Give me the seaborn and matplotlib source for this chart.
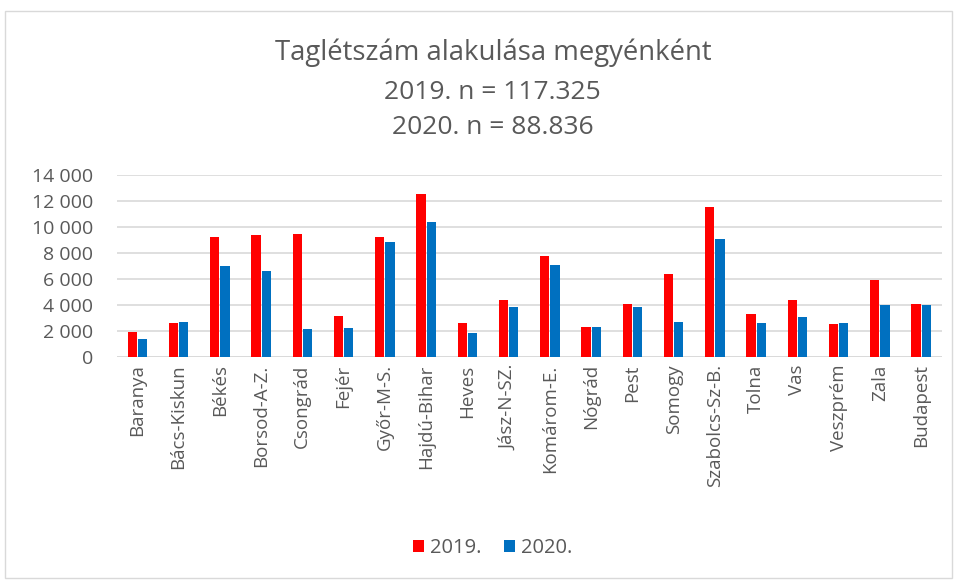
import pandas as pd
import matplotlib.pyplot as plt
import seaborn as sns
from matplotlib.patches import Rectangle

# Chart data
counties = ['Baranya', 'Bács-Kiskun', 'Békés', 'Borsod-A-Z.', 'Csongrád', 'Fejér',
            'Győr-M-S.', 'Hajdú-Bihar', 'Heves', 'Jász-N-SZ.', 'Komárom-E.', 'Nógrád',
            'Pest', 'Somogy', 'Szabolcs-Sz-B.', 'Tolna', 'Vas', 'Veszprém', 'Zala', 'Budapest']
members_2019 = [1950, 2650, 9280, 9400, 9500, 3160, 9300, 12540, 2620, 4390,
                7830, 2310, 4110, 6420, 11560, 3310, 4390, 2590, 5930, 4110]
members_2020 = [1390, 2700, 7040, 6630, 2180, 2240, 8860, 10400, 1900, 3880,
                7110, 2340, 3850, 2700, 9140, 2620, 3130, 2640, 4030, 4010]
years = ['2019.', '2020.']
colors = ['#FF0000', '#0070C0']
y_ticks = [0, 2000, 4000, 6000, 8000, 10000, 12000, 14000]

df = pd.DataFrame({
    'megye': counties * 2,
    'ev': [years[0]] * len(counties) + [years[1]] * len(counties),
    'letszam': members_2019 + members_2020,
})

sns.set_style('white')
plt.rcParams['font.family'] = ['Open Sans', 'DejaVu Sans']
grey = '#595959'

fig = plt.figure(figsize=(9.57, 5.83), dpi=100)
ax = fig.add_axes([0.122, 0.387, 0.862, 0.312])

sns.barplot(data=df, x='megye', y='letszam', hue='ev', palette=colors,
            saturation=1, width=0.5, gap=0.1, linewidth=0, ax=ax, legend=True)

ax.set_ylim(0, 14000)
ax.set_xlim(-0.5, len(counties) - 0.5)
ax.set_yticks(y_ticks)
ax.set_yticklabels([f'{v:,}'.replace(',', ' ') for v in y_ticks])
ax.yaxis.grid(True, color='#D9D9D9', linewidth=1.2)
ax.set_axisbelow(True)
for s in ax.spines.values():
    s.set_visible(False)
ax.axhline(0, color='#D9D9D9', linewidth=1.2, zorder=0)
ax.set_xlabel('')
ax.set_ylabel('')
ax.tick_params(axis='x', labelrotation=90, labelsize=13.5, colors=grey, length=0, pad=5)
ax.tick_params(axis='y', labelsize=14, colors=grey, length=0, pad=17)

# Legend at the bottom
handles, labels = ax.get_legend_handles_labels()
ax.legend_.remove()
fig.legend(handles, labels, loc='center', bbox_to_anchor=(0.515, 0.06), ncol=2,
           frameon=False, fontsize=14.5, labelcolor=grey, handlelength=0.55,
           handleheight=0.55, handletextpad=0.3, columnspacing=1.1)

# Title lines
fig.text(0.515, 0.91, 'Taglétszám alakulása megyénként', ha='center', va='center',
         fontsize=19.8, color=grey)
fig.text(0.515, 0.842, '2019. n = 117.325', ha='center', va='center',
         fontsize=19, color=grey)
fig.text(0.515, 0.782, '2020. n = 88.836', ha='center', va='center',
         fontsize=19, color=grey)

# Chart border
fig.patches.append(Rectangle((0.005, 0.008), 0.99, 0.973, transform=fig.transFigure,
                             fill=False, edgecolor='#D9D9D9', linewidth=1))

fig.savefig('out.png', dpi=100)
